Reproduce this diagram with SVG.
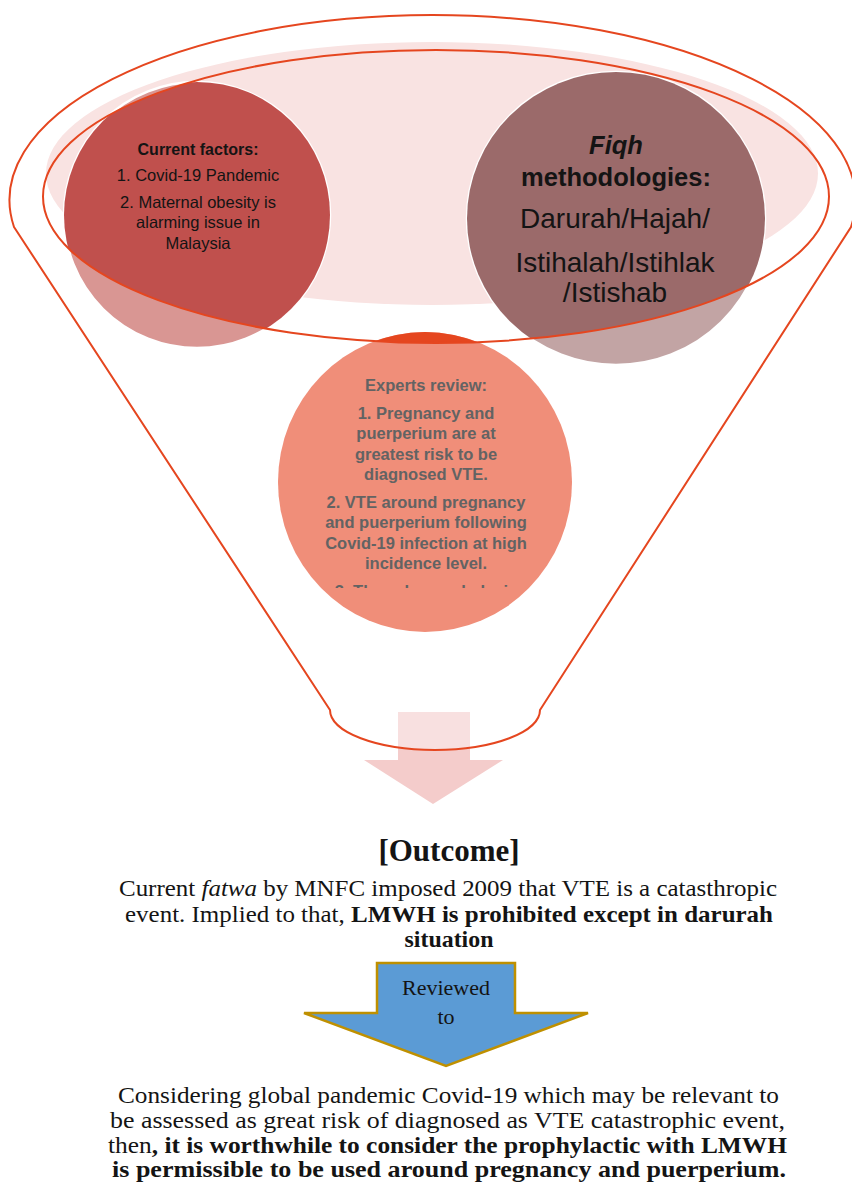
<svg xmlns="http://www.w3.org/2000/svg" width="852" height="1184" viewBox="0 0 852 1184">
<style>
.funnel{fill:none;stroke:#E5461F;stroke-width:2}
.sans{font-family:"Liberation Sans","DejaVu Sans",sans-serif}
.serif{font-family:"Liberation Serif","DejaVu Serif",serif}
.ct{text-anchor:middle}
.dark{fill:#141414}
.grey{fill:#636363;font-weight:bold}
</style>
<defs>
<clipPath id="inner"><ellipse cx="436" cy="196.5" rx="393" ry="146.5"/></clipPath>
<clipPath id="exclip"><rect x="270" y="330" width="320" height="258"/></clipPath>
</defs>
<rect width="852" height="1184" fill="#ffffff"/>
<g id="connectors">
  <path id="funnel-arrow" d="M398,712 H470 V760 H503 L433,804 L364,760 H398 Z" fill="#F4CCCB"/>
  <path id="review-arrow" d="M377,963 H515 V1013 H588 L446,1066 L304,1013 H377 Z" fill="#5B9BD5" stroke="#BF9000" stroke-width="2.5" stroke-linejoin="miter"/>
</g>
<g id="funnel">
  <path d="M14,227 L330,710 A105 40 0 0 0 540,710 L851,227 A423 185 0 1 0 14,227 Z" fill="#ffffff" fill-opacity="0.4"/>
  <ellipse cx="432" cy="173.5" rx="386" ry="131.5" fill="#F9E3E2"/>
</g>
<g id="node-current-factors">
  <ellipse cx="197" cy="215" rx="133" ry="133" fill="#D99693" stroke="#ffffff" stroke-width="2.5"/>
  <ellipse cx="197" cy="215" rx="133" ry="133" fill="#C0504D" clip-path="url(#inner)"/>
</g>
<g id="node-fiqh">
  <ellipse cx="616" cy="218.5" rx="149" ry="146.5" fill="#C2A4A4" stroke="#ffffff" stroke-width="2.5"/>
  <ellipse cx="616" cy="218.5" rx="149" ry="146.5" fill="#9B6A6A" clip-path="url(#inner)"/>
</g>
<g id="node-experts">
  <ellipse cx="425" cy="482" rx="147" ry="150" fill="#F08E79"/>
  <ellipse cx="425" cy="482" rx="147" ry="150" fill="#E5461F" clip-path="url(#inner)"/>
</g>
<g id="funnel-outline">
  <path class="funnel" d="M14,227 L330,710 A105 40 0 0 0 540,710 L851,227 A423 185 0 1 0 14,227 Z"/>
  <ellipse class="funnel" cx="436" cy="196.5" rx="393" ry="146.5"/>
</g>
<g id="text-current-factors" class="sans ct dark" font-size="16.5">
  <text x="198" y="155" font-weight="bold" font-size="16">Current factors:</text>
  <text x="198" y="181">1. Covid-19 Pandemic</text>
  <text x="198" y="208">2. Maternal obesity is</text>
  <text x="198" y="228">alarming issue in</text>
  <text x="198" y="249">Malaysia</text>
</g>
<g id="text-fiqh" class="sans ct dark">
  <text x="616" y="154" font-size="25.5" font-weight="bold" font-style="italic">Fiqh</text>
  <text x="616" y="186" font-size="25.5" font-weight="bold">methodologies:</text>
  <text x="615" y="228" font-size="28">Darurah/Hajah/</text>
  <text x="615" y="272" font-size="28">Istihalah/Istihlak</text>
  <text x="615" y="302" font-size="28">/Istishab</text>
</g>
<g id="text-experts" class="sans ct grey" font-size="16.5" clip-path="url(#exclip)">
  <text x="426" y="391">Experts review:</text>
  <text x="426" y="419">1. Pregnancy and</text>
  <text x="426" y="439">puerperium are at</text>
  <text x="426" y="460">greatest risk to be</text>
  <text x="426" y="480">diagnosed VTE.</text>
  <text x="426" y="508">2. VTE around pregnancy</text>
  <text x="426" y="528">and puerperium following</text>
  <text x="426" y="549">Covid-19 infection at high</text>
  <text x="426" y="569">incidence level.</text>
  <text x="426" y="597">3. Thromboprophylaxis</text>
</g>
<g id="outcome" class="serif ct dark">
  <text x="449" y="861" font-size="31" font-weight="bold">[Outcome]</text>
  <text x="448" y="896" font-size="22.5" textLength="658" lengthAdjust="spacingAndGlyphs">Current <tspan font-style="italic">fatwa</tspan> by MNFC imposed 2009 that VTE is a catasthropic</text>
  <text x="449" y="922" font-size="22.5" textLength="648" lengthAdjust="spacingAndGlyphs">event. Implied to that, <tspan font-weight="bold">LMWH is prohibited except in darurah</tspan></text>
  <text x="449" y="947" font-size="23" font-weight="bold" textLength="89" lengthAdjust="spacingAndGlyphs">situation</text>
</g>
<g id="review-label" class="serif ct dark" font-size="22">
  <text x="446" y="995">Reviewed</text>
  <text x="446" y="1024">to</text>
</g>
<g id="conclusion" class="serif ct dark" font-size="22.5">
  <text x="448.5" y="1103" textLength="661" lengthAdjust="spacingAndGlyphs">Considering global pandemic Covid-19 which may be relevant to</text>
  <text x="447.5" y="1128" textLength="675" lengthAdjust="spacingAndGlyphs">be assessed as great risk of diagnosed as VTE catastrophic event,</text>
  <text x="447.5" y="1153" textLength="679" lengthAdjust="spacingAndGlyphs">then<tspan font-weight="bold">, it is worthwhile to consider the prophylactic with LMWH</tspan></text>
  <text x="449" y="1177" font-weight="bold" textLength="674" lengthAdjust="spacingAndGlyphs">is permissible to be used around pregnancy and puerperium.</text>
</g>
</svg>
